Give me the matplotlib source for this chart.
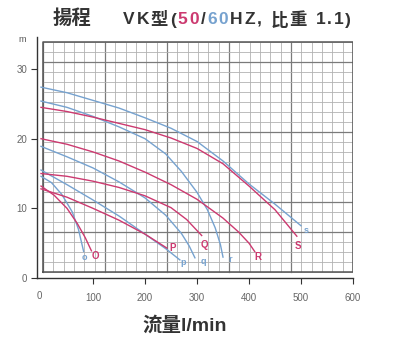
import matplotlib
matplotlib.use('Agg')
import matplotlib.pyplot as plt
import numpy as np

plt.rcParams['font.family'] = ['Liberation Sans', 'Noto Sans CJK TC', 'DejaVu Sans']

RED = '#cc3a70'
BLUE = '#76a2cf'

# 60Hz curves (blue, lowercase)
o_q = [0, 20, 40, 60, 72, 82]
o_h = [14.6, 13.7, 12.0, 9.5, 7.0, 3.8]
p_q = [0, 50, 100, 150, 200, 240, 267]
p_h = [15.5, 13.4, 11.2, 8.9, 6.3, 4.2, 2.6]
q_q = [0, 50, 100, 150, 200, 240, 270, 285, 296]
q_h = [18.9, 17.4, 15.8, 13.8, 11.5, 9.0, 6.4, 4.6, 2.9]
r_q = [0, 50, 100, 150, 200, 240, 270, 300, 320, 335, 345, 350]
r_h = [25.4, 24.5, 23.2, 21.7, 20.0, 17.8, 15.3, 12.3, 9.8, 7.2, 4.8, 3.0]
s_q = [0, 50, 100, 150, 200, 250, 300, 350, 400, 450, 500]
s_h = [27.4, 26.6, 25.5, 24.4, 23.0, 21.5, 19.6, 16.8, 13.5, 10.6, 7.5]

# 50Hz curves (red, uppercase)
O_q = [0, 25, 50, 70, 85, 97]
O_h = [13.2, 11.9, 10.0, 7.8, 5.8, 3.9]
P_q = [0, 50, 100, 150, 200, 242]
P_h = [12.8, 11.6, 10.0, 8.3, 6.3, 4.3]
Q_q = [0, 50, 100, 150, 200, 250, 280, 309]
Q_h = [15.0, 14.6, 13.9, 13.0, 11.8, 10.1, 8.4, 6.1]
R_q = [0, 50, 100, 150, 200, 250, 300, 350, 380, 400, 411]
R_h = [20.0, 19.2, 18.1, 16.8, 15.2, 13.4, 11.3, 8.6, 6.6, 5.0, 3.8]
S_q = [0, 50, 100, 150, 200, 250, 300, 350, 400, 450, 492]
S_h = [24.5, 23.9, 23.1, 22.2, 21.3, 20.1, 18.6, 16.4, 13.2, 9.8, 6.0]

curves = [
    ('o', o_q, o_h, BLUE, (83, 3.0)),
    ('p', p_q, p_h, BLUE, (273, 2.2)),
    ('q', q_q, q_h, BLUE, (313, 2.3)),
    ('r', r_q, r_h, BLUE, (363, 2.6)),
    ('s', s_q, s_h, BLUE, (510, 6.8)),
    ('O', O_q, O_h, RED, (104, 3.2)),
    ('P', P_q, P_h, RED, (254, 4.3)),
    ('Q', Q_q, Q_h, RED, (315, 4.7)),
    ('R', R_q, R_h, RED, (417, 3.0)),
    ('S', S_q, S_h, RED, (494, 4.6)),
]

x_ticks = [100, 200, 300, 400, 500, 600]
x_tick_labels = ['100', '200', '300', '400', '500', '600']
y_ticks = [0, 10, 20, 30]

fig = plt.figure(figsize=(3.93, 3.62), dpi=100)
ax = fig.add_axes([37 / 393, 84 / 362, 316 / 393, 241 / 362])
ax.set_xlim(-7.7, 600)
ax.set_ylim(0, 34.6)

# graph paper grid
gx0, gx1 = 4, 600
gy0, gy1 = 0.9, 33.9
cols = np.linspace(gx0, gx1, 31)
rows = np.linspace(gy0, gy1, 24)
for i, x in enumerate(cols):
    dark = i % 6 == 0
    ax.plot([x, x], [gy0, gy1], color='#7a7a7a' if dark else '#b2b2b2',
            lw=0.9 if dark else 0.6, zorder=1)
for j, y in enumerate(rows):
    dark = j in (4, 7, 14, 21)
    ax.plot([gx0, gx1], [y, y], color='#7a7a7a' if dark else '#b2b2b2',
            lw=0.9 if dark else 0.6, zorder=1)
ax.plot([gx0, gx1, gx1, gx0, gx0], [gy0, gy0, gy1, gy1, gy0], color='#555555', lw=1.1, zorder=2)

for name, q, h, color, pos in curves:
    ax.plot(q, h, color=color, lw=1.0, zorder=3)
    size = 7 if name.isupper() else 6.5
    ax.text(pos[0], pos[1], name, color=color, fontsize=size, fontweight='bold',
            ha='center', va='center', zorder=4)

for side in ['top', 'right']:
    ax.spines[side].set_visible(False)
ax.spines['left'].set_color('#333333')
ax.spines['bottom'].set_color('#333333')
ax.spines['left'].set_linewidth(1.0)
ax.spines['bottom'].set_linewidth(1.0)

ax.set_xticks(x_ticks)
ax.set_xticklabels(x_tick_labels)
ax.set_yticks(y_ticks)
ax.tick_params(axis='both', direction='out', length=4, width=0.8, colors='#333333',
               labelsize=7, labelcolor='#666666')
ax.tick_params(axis='x', pad=7)
ax.tick_params(axis='y', pad=3)
# the 0 on the flow axis has no tick mark
fig.text(39 / 393, 1 - 296 / 362, '0', fontsize=7, color='#666666', ha='center', va='center')
fig.text(22 / 393, 1 - 40 / 362, 'm', fontsize=6.5, color='#555555', ha='center', va='center')

# titles
fig.text(72 / 393, 1 - 19 / 362, '揚程', fontsize=14, fontweight='bold', color='#333333',
         ha='center', va='center')

title_pieces = [('VK型(', '#333333'), ('50', RED), ('/', '#333333'), ('60', BLUE),
                ('HZ, 比重 1.1)', '#333333')]
fig.canvas.draw()
renderer = fig.canvas.get_renderer()
x_px = 123
for txt, col in title_pieces:
    for ch in txt:
        t = fig.text(x_px / 393, 1 - 20 / 362, ch, fontsize=12.5, fontweight='bold', color=col,
                     ha='left', va='center')
        w = t.get_window_extent(renderer).width
        if ch == ' ':
            w = 5
        x_px += w + 1.8

fig.text(185 / 393, 1 - 325 / 362, '流量l/min', fontsize=14, fontweight='bold', color='#333333',
         ha='center', va='center')

fig.savefig('out.png', dpi=100)
